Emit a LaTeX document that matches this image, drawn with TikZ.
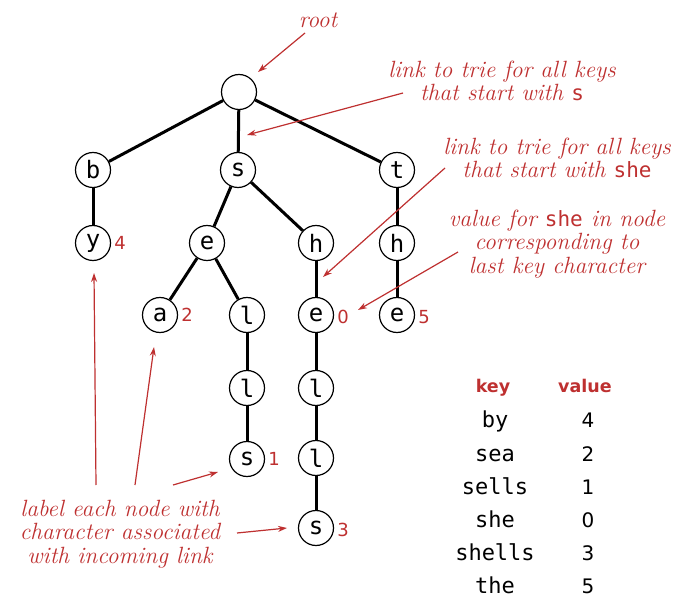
\documentclass[tikz,border=0pt]{standalone}
\usepackage{fontspec}
\newfontfamily\monof{DejaVu Sans Mono}
\newfontfamily\sansf{DejaVu Sans}
\usetikzlibrary{arrows.meta}
\definecolor{annot}{RGB}{190,48,48}
\newcommand{\cd}[1]{{\upshape\monof\fontsize{21}{21}\selectfont #1}}
\begin{document}
\begin{tikzpicture}[x=1pt,y=-1pt,
  tnode/.style={circle,draw,line width=1.2pt,minimum size=35pt,inner sep=0pt,font=\monof\fontsize{24}{24}\selectfont},
  link/.style={line width=3pt},
  ann/.style={draw=annot,line width=1.2pt,-{Stealth[length=9pt,width=6pt]}},
  anntext/.style={text=annot,font=\itshape\addfontfeatures{FakeBold=0.4}\fontsize{23.5}{23.5}\selectfont,align=center,inner sep=0pt},
  val/.style={text=annot,font=\sansf\fontsize{18}{18}\selectfont,anchor=west,inner sep=0pt},
  thead/.style={text=annot,font=\sansf\bfseries\fontsize{17.5}{17.5}\selectfont,anchor=base,inner sep=0pt},
  tcell/.style={font=\monof\fontsize{22}{22}\selectfont,anchor=base,inner sep=0pt},
  tval/.style={font=\sansf\fontsize{20}{20}\selectfont,anchor=base,inner sep=0pt}
]
\useasboundingbox (0,0) rectangle (673,599);
% trie nodes
\node[tnode] (root) at (239,92) {};
\node[tnode] (b) at (93,170) {b};
\node[tnode] (s) at (238,170) {s};
\node[tnode] (t) at (397,170) {t};
\node[tnode] (y) at (93,243) {y};
\node[tnode] (e1) at (207,243) {e};
\node[tnode] (h1) at (316,243) {h};
\node[tnode] (h2) at (397,243) {h};
\node[tnode] (a) at (160,315) {a};
\node[tnode] (l1) at (247,315) {l};
\node[tnode] (e2) at (316,315) {e};
\node[tnode] (e3) at (397,315) {e};
\node[tnode] (l2) at (247,388) {l};
\node[tnode] (l3) at (316,388) {l};
\node[tnode] (s1) at (247,459) {s};
\node[tnode] (l4) at (316,458) {l};
\node[tnode] (s2) at (316,528) {s};
% links
\draw[link] (root) -- (b);
\draw[link] (root) -- (s);
\draw[link] (root) -- (t);
\draw[link] (b) -- (y);
\draw[link] (s) -- (e1);
\draw[link] (s) -- (h1);
\draw[link] (t) -- (h2);
\draw[link] (e1) -- (a);
\draw[link] (e1) -- (l1);
\draw[link] (h1) -- (e2);
\draw[link] (h2) -- (e3);
\draw[link] (l1) -- (l2);
\draw[link] (l2) -- (s1);
\draw[link] (e2) -- (l3);
\draw[link] (l3) -- (l4);
\draw[link] (l4) -- (s2);
% values
\node[val] (v4) at ([xshift=3pt]y.east) {4};
\node[val] (v2) at ([xshift=3pt]a.east) {2};
\node[val] (v0) at ([xshift=3pt,yshift=-2pt]e2.east) {0};
\node[val] (v5) at ([xshift=3pt,yshift=-2pt]e3.east) {5};
\node[val] (v1) at ([xshift=3pt]s1.east) {1};
\node[val] (v3) at ([xshift=3pt,yshift=-2pt]s2.east) {3};
% annotations
\node[anntext] (troot) at (318,20) {root};
\node[anntext] (tslink) at (502,81) {link to trie for all keys\\that start with \cd{s}};
\node[anntext] (tshe) at (557,158) {link to trie for all keys\\that start with \cd{she}};
\node[anntext] (tval) at (557,244) {value for \cd{she} in node\\corresponding to\\last key character};
\node[anntext] (tlabel) at (120,534) {label each node with\\character associated\\with incoming link};
\coordinate (r0) at (305,33); \coordinate (r1) at (258,72);
\coordinate (sl0) at (403,93); \coordinate (sl1) at (247,135);
\coordinate (sh0) at (445,168); \coordinate (sh1) at (323,277);
\coordinate (va0) at (458,252); \coordinate (va1) at (358,310);
\coordinate (b0) at (96,485); \coordinate (b1) at (94,273);
\coordinate (c0) at (135,485); \coordinate (c1) at (154,347);
\coordinate (d0) at (173,485); \coordinate (d1) at (218,472);
\coordinate (f0) at (237,533); \coordinate (f1) at (287,528);
\draw[ann] (r0) -- (r1);
\draw[ann] (sl0) -- (sl1);
\draw[ann] (sh0) -- (sh1);
\draw[ann] (va0) -- (va1);
\draw[ann] (b0) -- (b1);
\draw[ann] (c0) -- (c1);
\draw[ann] (d0) -- (d1);
\draw[ann] (f0) -- (f1);
% table
\node[thead] (hk) at (493,392) {key};
\node[thead] (hv) at (585,392) {value};
\node[tcell] (k1) at (495,427) {by};
\node[tcell] (k2) at (495,461) {sea};
\node[tcell] (k3) at (495,494) {sells};
\node[tcell] (k4) at (495,527) {she};
\node[tcell] (k5) at (495,560) {shells};
\node[tcell] (k6) at (495,593) {the};
\node[tval] (w1) at (588,427) {4};
\node[tval] (w2) at (588,461) {2};
\node[tval] (w3) at (588,494) {1};
\node[tval] (w4) at (588,527) {0};
\node[tval] (w5) at (588,560) {3};
\node[tval] (w6) at (588,593) {5};
\end{tikzpicture}
\end{document}
